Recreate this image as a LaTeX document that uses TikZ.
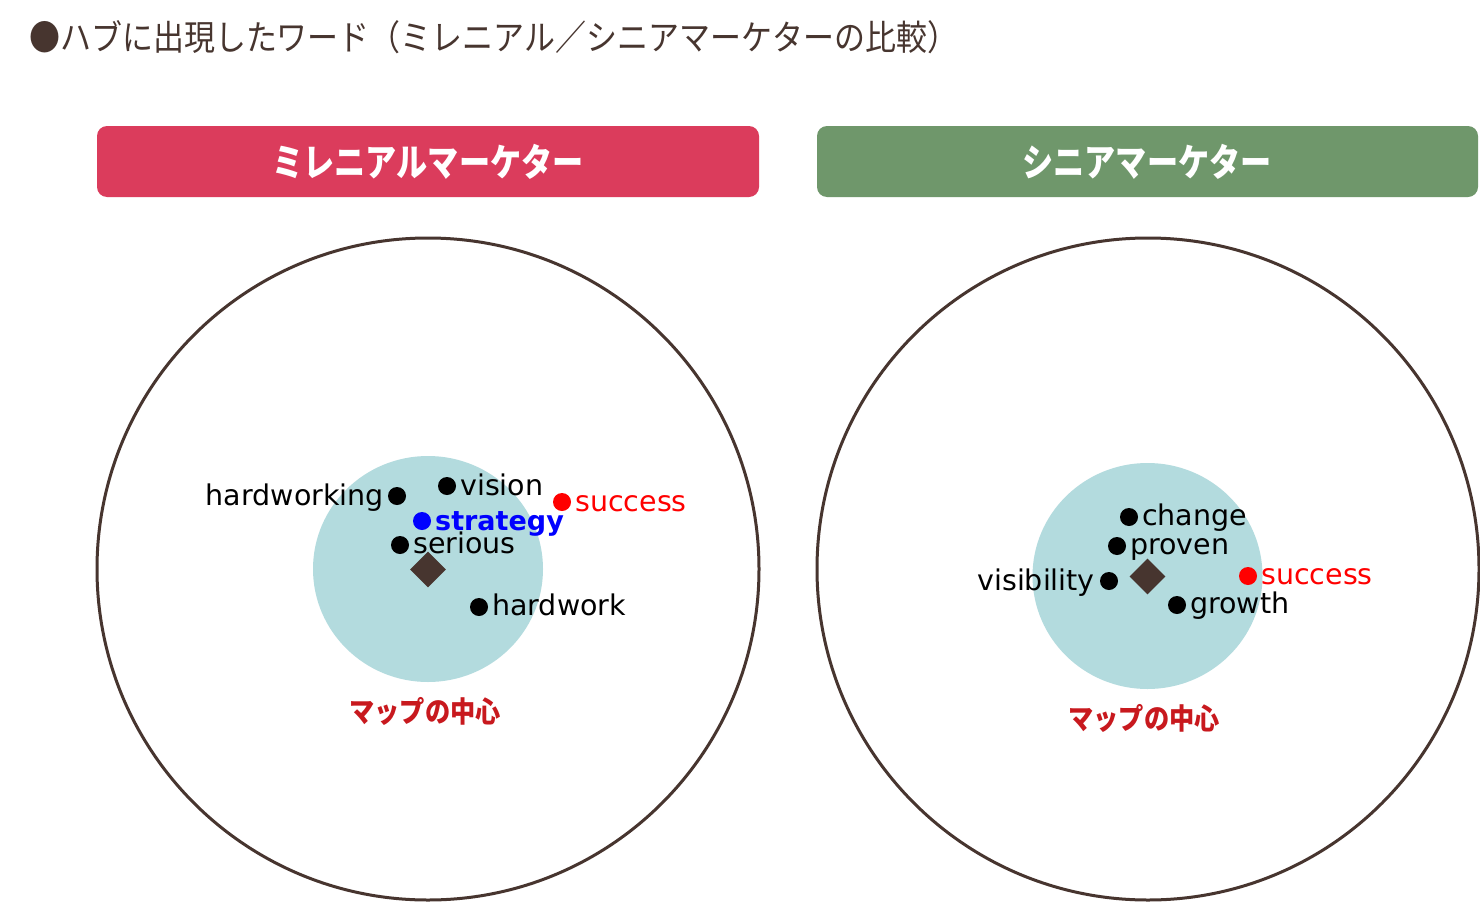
\documentclass[tikz,border=0pt]{standalone}
\usepackage{fontspec}
\usetikzlibrary{shapes.geometric}
\setmainfont{DejaVu Sans}
\newfontfamily\jptitle[FakeStretch=0.885]{Noto Sans CJK JP}
\newfontfamily\jpbox[FakeStretch=0.82]{Noto Sans CJK JP}
\newfontfamily\jplab[FakeStretch=0.87]{Noto Sans CJK JP}
\definecolor{brownc}{HTML}{47352F}
\definecolor{redbox}{HTML}{DB3C5C}
\definecolor{greenbox}{HTML}{6F976B}
\definecolor{hubc}{HTML}{B3DBDE}
\definecolor{maplab}{HTML}{C8191E}
\definecolor{blueword}{HTML}{0000FF}
\definecolor{redword}{HTML}{FF0000}
\begin{document}
\begin{tikzpicture}[x=1pt,y=-1pt,
  headbox/.style={rounded corners=10pt, inner sep=0pt},
  bigcircle/.style={draw=brownc, line width=3pt},
  hub/.style={fill=hubc},
  center mark/.style={diamond, fill=brownc, inner sep=0pt, minimum size=36pt},
  dot/.style={circle, fill=black, inner sep=0pt, minimum size=18pt},
  wordl/.style={inner sep=0pt, font=\fontsize{28.5}{34}\selectfont},
  maplabel/.style={inner sep=0pt, text=maplab, font=\jplab\bfseries\fontsize{29}{34}\selectfont},
  headtext/.style={inner sep=0pt, text=white, font=\jpbox\bfseries\fontsize{38}{44}\selectfont}
]
\useasboundingbox (0,0) rectangle (1480,902);
\fill[white] (0,0) rectangle (1480,902);

% title
\node[anchor=west, inner sep=0pt, text=brownc, font=\jptitle\fontsize{35}{40}\selectfont] (title) at (29,37) {●ハブに出現したワード（ミレニアル／シニアマーケターの比較）};

% header boxes
\fill[redbox, headbox] (97,126) rectangle (759,197);
\node[headtext] (hleft) at (428,162) {ミレニアルマーケター};
\fill[greenbox, headbox] (817,126) rectangle (1478,197);
\node[headtext] (hright) at (1147,162) {シニアマーケター};

% left map
\draw[bigcircle] (428,569) circle (331);
\fill[hub] (428,569) ellipse (115 and 113);
\node[center mark] (cL) at (428,569.5) {};

\node[dot] (dHw) at (397,496) {};
\node[wordl, anchor=base east] (tHw) at ([xshift=-13pt,yshift=-9pt]dHw.center) {hardworking};
\node[dot] (dVi) at (447,486) {};
\node[wordl, anchor=base west] (tVi) at ([xshift=13pt,yshift=-9pt]dVi.center) {vision};
\node[dot, fill=redword] (dSuL) at (562,502) {};
\node[wordl, anchor=base west, text=redword] (tSuL) at ([xshift=13pt,yshift=-9pt]dSuL.center) {success};
\node[dot, fill=blueword] (dSt) at (422,521) {};
\node[wordl, anchor=base west, text=blueword, font=\bfseries\fontsize{27}{34}\selectfont] (tSt) at ([xshift=13pt,yshift=-9pt]dSt.center) {strategy};
\node[dot] (dSe) at (400,545) {};
\node[wordl, anchor=base west] (tSe) at ([xshift=13pt,yshift=-8pt]dSe.center) {serious};
\node[dot] (dHk) at (479,607) {};
\node[wordl, anchor=base west] (tHk) at ([xshift=13pt,yshift=-8pt]dHk.center) {hardwork};

\node[maplabel] (mL) at (425,711) {マップの中心};

% right map
\draw[bigcircle] (1148,569) circle (331);
\fill[hub] (1147.5,576) ellipse (115 and 113);
\node[center mark] (cR) at (1147.5,576.5) {};

\node[dot] (dCh) at (1129,517) {};
\node[wordl, anchor=base west] (tCh) at ([xshift=13pt,yshift=-8pt]dCh.center) {change};
\node[dot] (dPr) at (1117,546) {};
\node[wordl, anchor=base west] (tPr) at ([xshift=13pt,yshift=-8pt]dPr.center) {proven};
\node[dot] (dVs) at (1109,581) {};
\node[wordl, anchor=base east] (tVs) at ([xshift=-14pt,yshift=-9pt]dVs.center) {visibility};
\node[dot, fill=redword] (dSuR) at (1248,576) {};
\node[wordl, anchor=base west, text=redword] (tSuR) at ([xshift=13pt,yshift=-8pt]dSuR.center) {success};
\node[dot] (dGr) at (1177,605) {};
\node[wordl, anchor=base west] (tGr) at ([xshift=13pt,yshift=-8pt]dGr.center) {growth};

\node[maplabel] (mR) at (1144,718) {マップの中心};
\end{tikzpicture}
\end{document}
